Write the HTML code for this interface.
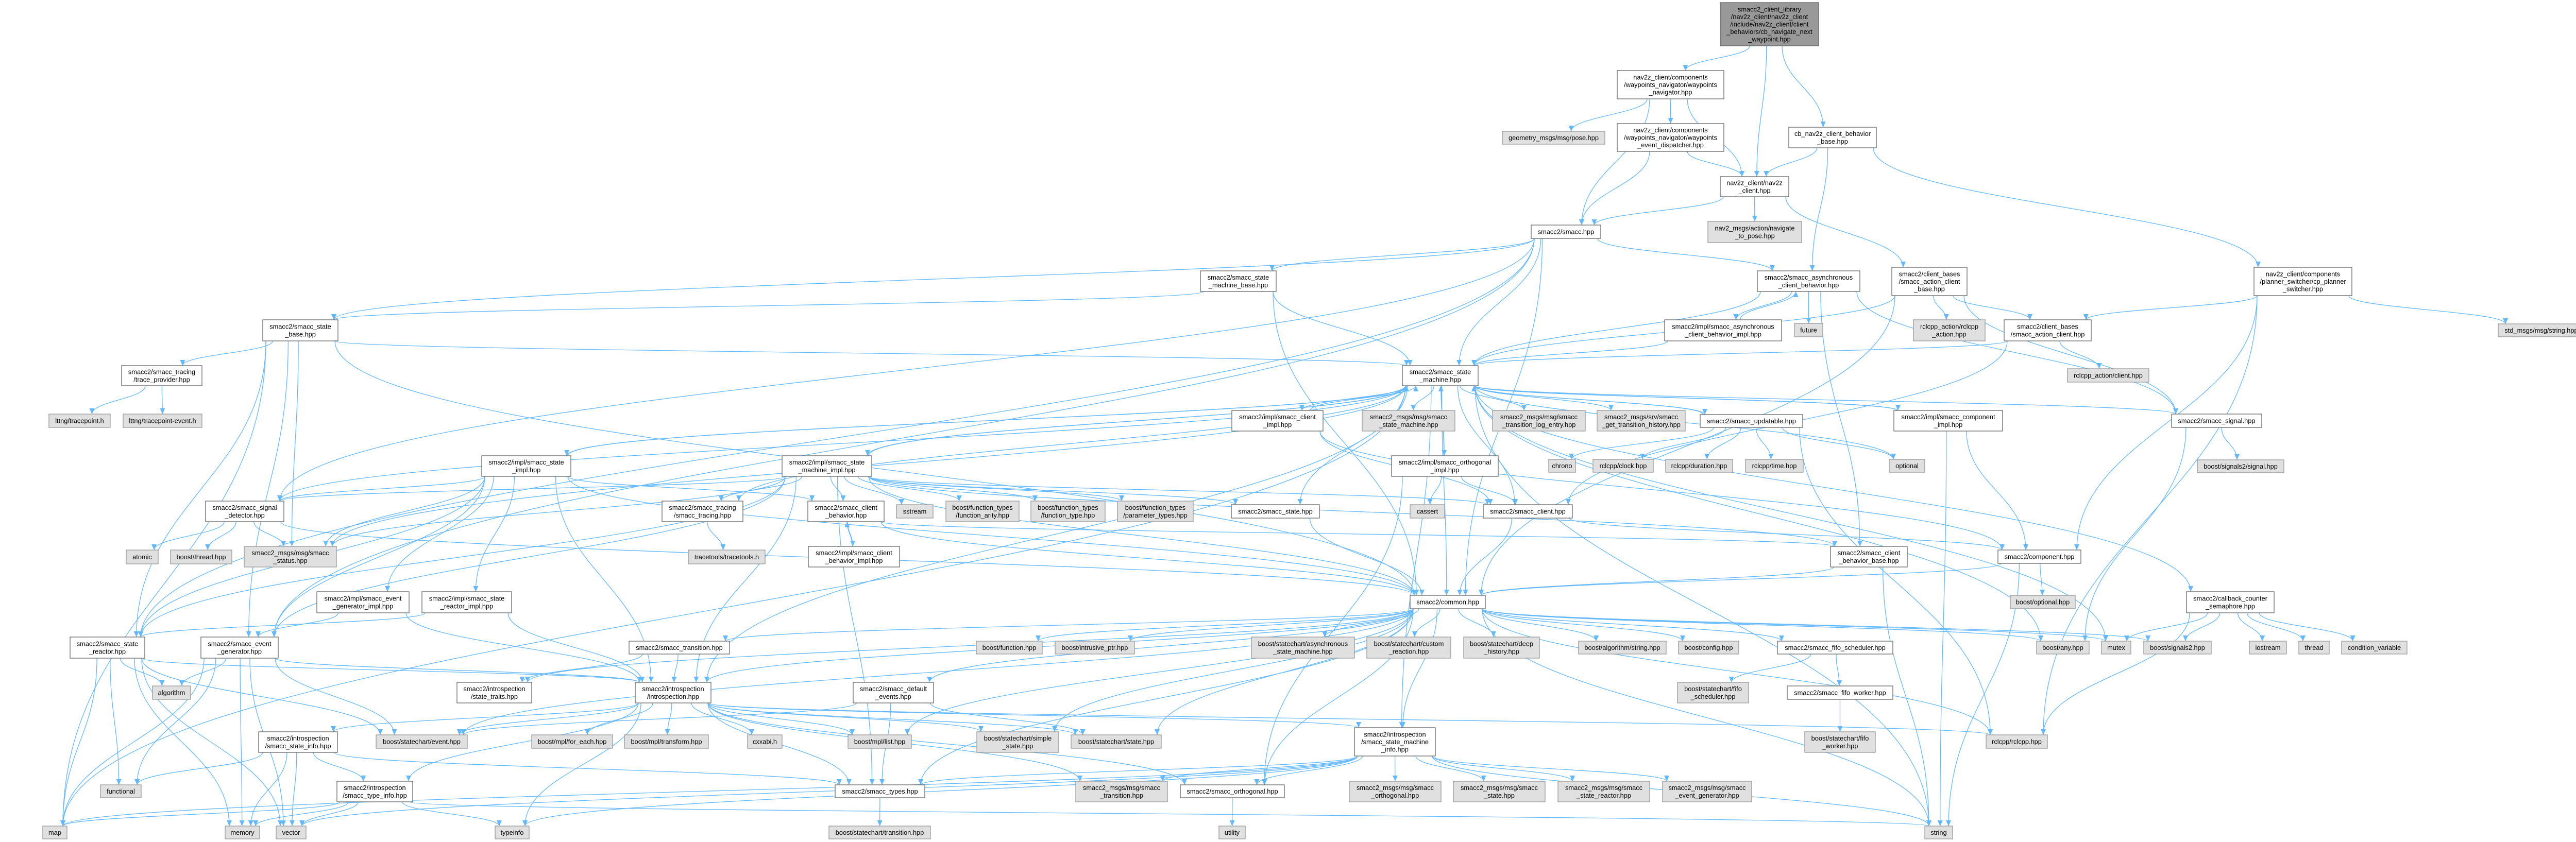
<!DOCTYPE html>
<html><head><meta charset="utf-8">
<style>
html,body{margin:0;padding:0;background:#fff;}
svg{display:block;}
text{font-family:"Liberation Sans",Arial,sans-serif;font-size:12.8px;fill:#000;text-anchor:middle;}
.w{fill:#fff;stroke:#666;stroke-width:1.3;}
.g{fill:#e0e0e0;stroke:#999;stroke-width:1.3;}
.d{fill:#999;stroke:#666;stroke-width:1.3;}
.e{fill:none;stroke:#63b8ff;stroke-width:1.3;}
</style></head>
<body>
<svg id="s" width="5023" height="1635" viewBox="0 0 5023 1635" xmlns="http://www.w3.org/2000/svg">
<defs><marker id="a" markerUnits="userSpaceOnUse" markerWidth="12" markerHeight="10" refX="11" refY="5" orient="auto"><path d="M0,0 L11,5 L0,10 z" fill="#63b8ff"/></marker></defs>
<g id="edges"></g>
<g id="nodes">
<g id="R"><rect class="d" x="3339" y="5" width="191" height="84"/><text x="3434.5" y="22.3">smacc2_client_library<tspan x="3434.5" dy="14.6">/nav2z_client/nav2z_client</tspan><tspan x="3434.5" dy="14.6">/include/nav2z_client/client</tspan><tspan x="3434.5" dy="14.6">_behaviors/cb_navigate_next</tspan><tspan x="3434.5" dy="14.6">_waypoint.hpp</tspan></text></g>
<g id="WN"><rect class="w" x="3139" y="137" width="207" height="55"/><text x="3242.5" y="154.4">nav2z_client/components<tspan x="3242.5" dy="14.6">/waypoints_navigator/waypoints</tspan><tspan x="3242.5" dy="14.6">_navigator.hpp</tspan></text></g>
<g id="GP"><rect class="g" x="2916" y="255" width="199" height="25"/><text x="3015.5" y="272">geometry_msgs/msg/pose.hpp</text></g>
<g id="WE"><rect class="w" x="3139" y="240" width="207" height="54"/><text x="3242.5" y="256.9">nav2z_client/components<tspan x="3242.5" dy="14.6">/waypoints_navigator/waypoints</tspan><tspan x="3242.5" dy="14.6">_event_dispatcher.hpp</tspan></text></g>
<g id="NC"><rect class="w" x="3339" y="343" width="133" height="39"/><text x="3405.5" y="359.7">nav2z_client/nav2z<tspan x="3405.5" dy="14.6">_client.hpp</tspan></text></g>
<g id="NP"><rect class="g" x="3315" y="430" width="182" height="41"/><text x="3406" y="447.7">nav2_msgs/action/navigate<tspan x="3406" dy="14.6">_to_pose.hpp</tspan></text></g>
<g id="SM"><rect class="w" x="2972" y="437" width="135" height="26"/><text x="3039.5" y="454.5">smacc2/smacc.hpp</text></g>
<g id="CB"><rect class="w" x="3472" y="247" width="170" height="40"/><text x="3557" y="264.2">cb_nav2z_client_behavior<tspan x="3557" dy="14.6">_base.hpp</tspan></text></g>
<g id="SMB"><rect class="w" x="2330" y="526" width="147" height="40"/><text x="2403.5" y="543.2">smacc2/smacc_state<tspan x="2403.5" dy="14.6">_machine_base.hpp</tspan></text></g>
<g id="AC"><rect class="w" x="3411" y="526" width="199" height="40"/><text x="3510.5" y="543.2">smacc2/smacc_asynchronous<tspan x="3510.5" dy="14.6">_client_behavior.hpp</tspan></text></g>
<g id="ACB"><rect class="w" x="3672" y="519" width="146" height="55"/><text x="3745" y="536.4">smacc2/client_bases<tspan x="3745" dy="14.6">/smacc_action_client</tspan><tspan x="3745" dy="14.6">_base.hpp</tspan></text></g>
<g id="PS"><rect class="w" x="4375" y="519" width="190" height="55"/><text x="4470" y="536.4">nav2z_client/components<tspan x="4470" dy="14.6">/planner_switcher/cp_planner</tspan><tspan x="4470" dy="14.6">_switcher.hpp</tspan></text></g>
<g id="ACI"><rect class="w" x="3231" y="621" width="227" height="41"/><text x="3344.5" y="638.7">smacc2/impl/smacc_asynchronous<tspan x="3344.5" dy="14.6">_client_behavior_impl.hpp</tspan></text></g>
<g id="FU"><rect class="g" x="3483" y="628" width="55" height="26"/><text x="3510.5" y="645.5">future</text></g>
<g id="RA"><rect class="g" x="3714" y="621" width="139" height="41"/><text x="3783.5" y="638.7">rclcpp_action/rclcpp<tspan x="3783.5" dy="14.6">_action.hpp</tspan></text></g>
<g id="ACL"><rect class="w" x="3890" y="621" width="169" height="41"/><text x="3974.5" y="638.7">smacc2/client_bases<tspan x="3974.5" dy="14.6">/smacc_action_client.hpp</tspan></text></g>
<g id="RAC"><rect class="g" x="4013" y="716" width="158" height="26"/><text x="4092" y="733.5">rclcpp_action/client.hpp</text></g>
<g id="SS"><rect class="g" x="4849" y="629" width="167" height="25"/><text x="4932.5" y="646">std_msgs/msg/string.hpp</text></g>
<g id="SB"><rect class="w" x="510" y="621" width="146" height="41"/><text x="583" y="638.7">smacc2/smacc_state<tspan x="583" dy="14.6">_base.hpp</tspan></text></g>
<g id="TP"><rect class="w" x="236" y="710" width="156" height="39"/><text x="314" y="726.7">smacc2/smacc_tracing<tspan x="314" dy="14.6">/trace_provider.hpp</tspan></text></g>
<g id="LT1"><rect class="g" x="95" y="804" width="119" height="26"/><text x="154.5" y="821.5">lttng/tracepoint.h</text></g>
<g id="LT2"><rect class="g" x="239" y="804" width="153" height="26"/><text x="315.5" y="821.5">lttng/tracepoint-event.h</text></g>
<g id="STM"><rect class="w" x="2722" y="710" width="147" height="39"/><text x="2795.5" y="726.7">smacc2/smacc_state<tspan x="2795.5" dy="14.6">_machine.hpp</tspan></text></g>
<g id="CI"><rect class="w" x="2391" y="797" width="177" height="40"/><text x="2479.5" y="814.2">smacc2/impl/smacc_client<tspan x="2479.5" dy="14.6">_impl.hpp</tspan></text></g>
<g id="MSM"><rect class="g" x="2644" y="797" width="180" height="40"/><text x="2734" y="814.2">smacc2_msgs/msg/smacc<tspan x="2734" dy="14.6">_state_machine.hpp</tspan></text></g>
<g id="MTL"><rect class="g" x="2897" y="797" width="180" height="40"/><text x="2987" y="814.2">smacc2_msgs/msg/smacc<tspan x="2987" dy="14.6">_transition_log_entry.hpp</tspan></text></g>
<g id="MGT"><rect class="g" x="3100" y="797" width="171" height="40"/><text x="3185.5" y="814.2">smacc2_msgs/srv/smacc<tspan x="3185.5" dy="14.6">_get_transition_history.hpp</tspan></text></g>
<g id="UP"><rect class="w" x="3300" y="805" width="199" height="25"/><text x="3399.5" y="822">smacc2/smacc_updatable.hpp</text></g>
<g id="CPI"><rect class="w" x="3676" y="797" width="211" height="40"/><text x="3781.5" y="814.2">smacc2/impl/smacc_component<tspan x="3781.5" dy="14.6">_impl.hpp</tspan></text></g>
<g id="SIG"><rect class="w" x="4215" y="804" width="175" height="26"/><text x="4302.5" y="821.5">smacc2/smacc_signal.hpp</text></g>
<g id="SMI"><rect class="w" x="1518" y="885" width="174" height="40"/><text x="1605" y="902.2">smacc2/impl/smacc_state<tspan x="1605" dy="14.6">_machine_impl.hpp</tspan></text></g>
<g id="OI"><rect class="w" x="2701" y="885" width="207" height="40"/><text x="2804.5" y="902.2">smacc2/impl/smacc_orthogonal<tspan x="2804.5" dy="14.6">_impl.hpp</tspan></text></g>
<g id="SI"><rect class="w" x="935" y="885" width="173" height="40"/><text x="1021.5" y="902.2">smacc2/impl/smacc_state<tspan x="1021.5" dy="14.6">_impl.hpp</tspan></text></g>
<g id="CH"><rect class="g" x="3006" y="892" width="52" height="25"/><text x="3032" y="909">chrono</text></g>
<g id="CL"><rect class="g" x="3092" y="892" width="117" height="25"/><text x="3150.5" y="909">rclcpp/clock.hpp</text></g>
<g id="DU"><rect class="g" x="3233" y="892" width="130" height="25"/><text x="3298" y="909">rclcpp/duration.hpp</text></g>
<g id="TI"><rect class="g" x="3388" y="892" width="112" height="25"/><text x="3444" y="909">rclcpp/time.hpp</text></g>
<g id="OP"><rect class="g" x="3667" y="892" width="69" height="25"/><text x="3701.5" y="909">optional</text></g>
<g id="SIGS"><rect class="g" x="4265" y="893" width="168" height="25"/><text x="4349" y="910">boost/signals2/signal.hpp</text></g>
<g id="SD"><rect class="w" x="399" y="973" width="152" height="40"/><text x="475" y="990.2">smacc2/smacc_signal<tspan x="475" dy="14.6">_detector.hpp</tspan></text></g>
<g id="TR"><rect class="w" x="1285" y="973" width="157" height="40"/><text x="1363.5" y="990.2">smacc2/smacc_tracing<tspan x="1363.5" dy="14.6">/smacc_tracing.hpp</tspan></text></g>
<g id="CBH"><rect class="w" x="1568" y="973" width="148" height="40"/><text x="1642" y="990.2">smacc2/smacc_client<tspan x="1642" dy="14.6">_behavior.hpp</tspan></text></g>
<g id="SST"><rect class="g" x="1740" y="980" width="71" height="26"/><text x="1775.5" y="997.5">sstream</text></g>
<g id="FA"><rect class="g" x="1836" y="973" width="142" height="40"/><text x="1907" y="990.2">boost/function_types<tspan x="1907" dy="14.6">/function_arity.hpp</tspan></text></g>
<g id="FT"><rect class="g" x="2001" y="973" width="144" height="40"/><text x="2073" y="990.2">boost/function_types<tspan x="2073" dy="14.6">/function_type.hpp</tspan></text></g>
<g id="PT"><rect class="g" x="2169" y="973" width="147" height="40"/><text x="2242.5" y="990.2">boost/function_types<tspan x="2242.5" dy="14.6">/parameter_types.hpp</tspan></text></g>
<g id="ST"><rect class="w" x="2390" y="980" width="171" height="26"/><text x="2475.5" y="997.5">smacc2/smacc_state.hpp</text></g>
<g id="CA"><rect class="g" x="2737" y="980" width="67" height="26"/><text x="2770.5" y="997.5">cassert</text></g>
<g id="CLT"><rect class="w" x="2879" y="980" width="173" height="26"/><text x="2965.5" y="997.5">smacc2/smacc_client.hpp</text></g>
<g id="AT"><rect class="g" x="245" y="1068" width="62" height="27"/><text x="276" y="1086">atomic</text></g>
<g id="BT"><rect class="g" x="331" y="1068" width="119" height="27"/><text x="390.5" y="1086">boost/thread.hpp</text></g>
<g id="STS"><rect class="g" x="474" y="1061" width="179" height="40"/><text x="563.5" y="1078.2">smacc2_msgs/msg/smacc<tspan x="563.5" dy="14.6">_status.hpp</tspan></text></g>
<g id="TT"><rect class="g" x="1336" y="1068" width="149" height="27"/><text x="1410.5" y="1086">tracetools/tracetools.h</text></g>
<g id="CBI"><rect class="w" x="1569" y="1061" width="177" height="40"/><text x="1657.5" y="1078.2">smacc2/impl/smacc_client<tspan x="1657.5" dy="14.6">_behavior_impl.hpp</tspan></text></g>
<g id="CBB"><rect class="w" x="3553" y="1061" width="149" height="40"/><text x="3627.5" y="1078.2">smacc2/smacc_client<tspan x="3627.5" dy="14.6">_behavior_base.hpp</tspan></text></g>
<g id="CO"><rect class="w" x="3878" y="1068" width="161" height="26"/><text x="3958.5" y="1085.5">smacc2/component.hpp</text></g>
<g id="EGI"><rect class="w" x="615" y="1149" width="179" height="41"/><text x="704.5" y="1166.7">smacc2/impl/smacc_event<tspan x="704.5" dy="14.6">_generator_impl.hpp</tspan></text></g>
<g id="SRI"><rect class="w" x="819" y="1149" width="174" height="41"/><text x="906" y="1166.7">smacc2/impl/smacc_state<tspan x="906" dy="14.6">_reactor_impl.hpp</tspan></text></g>
<g id="CM"><rect class="w" x="2737" y="1156" width="146" height="26"/><text x="2810" y="1173.5">smacc2/common.hpp</text></g>
<g id="BO"><rect class="g" x="3902" y="1156" width="126" height="26"/><text x="3965" y="1173.5">boost/optional.hpp</text></g>
<g id="CCS"><rect class="w" x="4244" y="1149" width="170" height="41"/><text x="4329" y="1166.7">smacc2/callback_counter<tspan x="4329" dy="14.6">_semaphore.hpp</tspan></text></g>
<g id="SR"><rect class="w" x="136" y="1237" width="145" height="41"/><text x="208.5" y="1254.7">smacc2/smacc_state<tspan x="208.5" dy="14.6">_reactor.hpp</tspan></text></g>
<g id="EG"><rect class="w" x="390" y="1237" width="150" height="41"/><text x="465" y="1254.7">smacc2/smacc_event<tspan x="465" dy="14.6">_generator.hpp</tspan></text></g>
<g id="TRN"><rect class="w" x="1221" y="1245" width="195" height="25"/><text x="1318.5" y="1262">smacc2/smacc_transition.hpp</text></g>
<g id="BF"><rect class="g" x="1895" y="1245" width="128" height="25"/><text x="1959" y="1262">boost/function.hpp</text></g>
<g id="BIP"><rect class="g" x="2048" y="1245" width="154" height="25"/><text x="2125" y="1262">boost/intrusive_ptr.hpp</text></g>
<g id="ASM"><rect class="g" x="2429" y="1237" width="200" height="41"/><text x="2529" y="1254.7">boost/statechart/asynchronous<tspan x="2529" dy="14.6">_state_machine.hpp</tspan></text></g>
<g id="CR"><rect class="g" x="2653" y="1237" width="163" height="41"/><text x="2734.5" y="1254.7">boost/statechart/custom<tspan x="2734.5" dy="14.6">_reaction.hpp</tspan></text></g>
<g id="DH"><rect class="g" x="2841" y="1237" width="147" height="41"/><text x="2914.5" y="1254.7">boost/statechart/deep<tspan x="2914.5" dy="14.6">_history.hpp</tspan></text></g>
<g id="BAS"><rect class="g" x="3064" y="1245" width="170" height="25"/><text x="3149" y="1262">boost/algorithm/string.hpp</text></g>
<g id="BC"><rect class="g" x="3258" y="1245" width="117" height="25"/><text x="3316.5" y="1262">boost/config.hpp</text></g>
<g id="FS"><rect class="w" x="3450" y="1245" width="224" height="25"/><text x="3562" y="1262">smacc2/smacc_fifo_scheduler.hpp</text></g>
<g id="ANY"><rect class="g" x="3953" y="1245" width="102" height="25"/><text x="4004" y="1262">boost/any.hpp</text></g>
<g id="MU"><rect class="g" x="4079" y="1245" width="57" height="25"/><text x="4107.5" y="1262">mutex</text></g>
<g id="SG2"><rect class="g" x="4161" y="1245" width="131" height="25"/><text x="4226.5" y="1262">boost/signals2.hpp</text></g>
<g id="IO"><rect class="g" x="4366" y="1245" width="72" height="25"/><text x="4402" y="1262">iostream</text></g>
<g id="TH"><rect class="g" x="4462" y="1245" width="59" height="25"/><text x="4491.5" y="1262">thread</text></g>
<g id="CV"><rect class="g" x="4545" y="1245" width="127" height="25"/><text x="4608.5" y="1262">condition_variable</text></g>
<g id="AL"><rect class="g" x="296" y="1332" width="74" height="26"/><text x="333" y="1349.5">algorithm</text></g>
<g id="STT"><rect class="w" x="887" y="1325" width="145" height="40"/><text x="959.5" y="1342.2">smacc2/introspection<tspan x="959.5" dy="14.6">/state_traits.hpp</tspan></text></g>
<g id="IN"><rect class="w" x="1233" y="1325" width="147" height="40"/><text x="1306.5" y="1342.2">smacc2/introspection<tspan x="1306.5" dy="14.6">/introspection.hpp</tspan></text></g>
<g id="DE"><rect class="w" x="1656" y="1325" width="156" height="40"/><text x="1734" y="1342.2">smacc2/smacc_default<tspan x="1734" dy="14.6">_events.hpp</tspan></text></g>
<g id="BFS"><rect class="g" x="3256" y="1325" width="138" height="40"/><text x="3325" y="1342.2">boost/statechart/fifo<tspan x="3325" dy="14.6">_scheduler.hpp</tspan></text></g>
<g id="FW"><rect class="w" x="3469" y="1332" width="205" height="26"/><text x="3571.5" y="1349.5">smacc2/smacc_fifo_worker.hpp</text></g>
<g id="SIN"><rect class="w" x="502" y="1421" width="153" height="40"/><text x="578.5" y="1438.2">smacc2/introspection<tspan x="578.5" dy="14.6">/smacc_state_info.hpp</tspan></text></g>
<g id="EV"><rect class="g" x="730" y="1427" width="177" height="26"/><text x="818.5" y="1444.5">boost/statechart/event.hpp</text></g>
<g id="FE"><rect class="g" x="1032" y="1427" width="157" height="26"/><text x="1110.5" y="1444.5">boost/mpl/for_each.hpp</text></g>
<g id="MT"><rect class="g" x="1212" y="1427" width="163" height="26"/><text x="1293.5" y="1444.5">boost/mpl/transform.hpp</text></g>
<g id="CX"><rect class="g" x="1451" y="1427" width="67" height="26"/><text x="1484.5" y="1444.5">cxxabi.h</text></g>
<g id="ML"><rect class="g" x="1646" y="1427" width="123" height="26"/><text x="1707.5" y="1444.5">boost/mpl/list.hpp</text></g>
<g id="SS2"><rect class="g" x="1896" y="1421" width="159" height="40"/><text x="1975.5" y="1438.2">boost/statechart/simple<tspan x="1975.5" dy="14.6">_state.hpp</tspan></text></g>
<g id="BST"><rect class="g" x="2079" y="1427" width="175" height="26"/><text x="2166.5" y="1444.5">boost/statechart/state.hpp</text></g>
<g id="SMIF"><rect class="w" x="2629" y="1413" width="157" height="55"/><text x="2707.5" y="1430.4">smacc2/introspection<tspan x="2707.5" dy="14.6">/smacc_state_machine</tspan><tspan x="2707.5" dy="14.6">_info.hpp</tspan></text></g>
<g id="BFW"><rect class="g" x="3503" y="1421" width="137" height="40"/><text x="3571.5" y="1438.2">boost/statechart/fifo<tspan x="3571.5" dy="14.6">_worker.hpp</tspan></text></g>
<g id="RC"><rect class="g" x="3855" y="1427" width="119" height="26"/><text x="3914.5" y="1444.5">rclcpp/rclcpp.hpp</text></g>
<g id="FN"><rect class="g" x="195" y="1524" width="79" height="25"/><text x="234.5" y="1541">functional</text></g>
<g id="TYI"><rect class="w" x="654" y="1517" width="147" height="40"/><text x="727.5" y="1534.2">smacc2/introspection<tspan x="727.5" dy="14.6">/smacc_type_info.hpp</tspan></text></g>
<g id="TY"><rect class="w" x="1621" y="1524" width="174" height="25"/><text x="1708" y="1541">smacc2/smacc_types.hpp</text></g>
<g id="MTR"><rect class="g" x="2088" y="1517" width="178" height="40"/><text x="2177" y="1534.2">smacc2_msgs/msg/smacc<tspan x="2177" dy="14.6">_transition.hpp</tspan></text></g>
<g id="OR"><rect class="w" x="2291" y="1524" width="202" height="25"/><text x="2392" y="1541">smacc2/smacc_orthogonal.hpp</text></g>
<g id="MO"><rect class="g" x="2619" y="1517" width="178" height="40"/><text x="2708" y="1534.2">smacc2_msgs/msg/smacc<tspan x="2708" dy="14.6">_orthogonal.hpp</tspan></text></g>
<g id="MS"><rect class="g" x="2821" y="1517" width="178" height="40"/><text x="2910" y="1534.2">smacc2_msgs/msg/smacc<tspan x="2910" dy="14.6">_state.hpp</tspan></text></g>
<g id="MSR"><rect class="g" x="3024" y="1517" width="178" height="40"/><text x="3113" y="1534.2">smacc2_msgs/msg/smacc<tspan x="3113" dy="14.6">_state_reactor.hpp</tspan></text></g>
<g id="MEG"><rect class="g" x="3227" y="1517" width="173" height="40"/><text x="3313.5" y="1534.2">smacc2_msgs/msg/smacc<tspan x="3313.5" dy="14.6">_event_generator.hpp</tspan></text></g>
<g id="MAP"><rect class="g" x="83" y="1604" width="47" height="25"/><text x="106.5" y="1621">map</text></g>
<g id="MEM"><rect class="g" x="437" y="1604" width="67" height="25"/><text x="470.5" y="1621">memory</text></g>
<g id="VEC"><rect class="g" x="536" y="1604" width="58" height="25"/><text x="565" y="1621">vector</text></g>
<g id="TYP"><rect class="g" x="961" y="1604" width="66" height="25"/><text x="994" y="1621">typeinfo</text></g>
<g id="BSTR"><rect class="g" x="1609" y="1604" width="197" height="25"/><text x="1707.5" y="1621">boost/statechart/transition.hpp</text></g>
<g id="UT"><rect class="g" x="2366" y="1604" width="51" height="25"/><text x="2391.5" y="1621">utility</text></g>
<g id="STR"><rect class="g" x="3736" y="1604" width="54" height="25"/><text x="3763" y="1621">string</text></g>
</g>
</svg>
<script>
(function(){
var E="R-WN R-NC R-CB WN-SM WN-GP WN-WE WN-NC WE-SM WE-NC NC-SM NC-NP NC-ACB CB-NC CB-AC CB-PS "+
"SM-SMB SM-AC SM-STM SM-SB SM-SD SM-CM SM-SR SM-EG SMB-STM SMB-SB SMB-CM AC-ACI AC-FU AC-SIG AC-CBB AC-STM ACI-AC ACI-STM "+
"ACB-ACL ACB-RA ACB-SIG ACB-STM ACB-CM PS-ACL PS-SS PS-CO PS-RC ACL-RAC ACL-CLT ACL-STM "+
"SB-TP SB-STM SB-SR SB-EG SB-CM SB-STS SB-MAP TP-LT1 TP-LT2 "+
"STM-CI STM-MSM STM-MTL STM-MGT STM-UP STM-CPI STM-SIG STM-OI STM-SMI STM-SI STM-SD STM-ST STM-CLT STM-CM STM-STS STM-MU STM-ANY STM-MAP STM-CCS STM-STR STM-SMIF STM-IN STM-TR STM-OP "+
"SMI-STM SI-STM OI-STM CI-STM CPI-STM UP-STM CI-CLT CI-CO UP-CH UP-CL UP-DU UP-TI UP-OP UP-RC CPI-CO CPI-STR SIG-SIGS SIG-ANY "+
"OI-CA OI-CLT OI-OR SI-SD SI-SR SI-EGI SI-SRI SI-IN SI-STS SI-CBH SI-CM SI-EG "+
"SMI-TR SMI-CBH SMI-SST SMI-FA SMI-FT SMI-PT SMI-ST SMI-CLT SMI-SR SMI-EG SMI-SD SMI-STS SMI-IN SMI-TY SMI-CBB SMI-CM "+
"SD-AT SD-BT SD-STS SD-CM TR-TT CBH-CBI CBI-CBH CBH-CBB CBH-CM ST-CM CLT-CM CLT-CO CBB-CM CBB-STR CO-CM CO-BO CO-STR "+
"EGI-EG EGI-IN SRI-SR SRI-IN CM-BF CM-BIP CM-ASM CM-CR CM-DH CM-BAS CM-BC CM-FS CM-ANY CM-MU CM-SG2 CM-RC CM-IN CM-TRN CM-DE CM-SMIF CM-OR CM-TY CM-EV CM-SS2 CM-BST CM-ML CM-STR CM-STT "+
"CCS-MU CCS-SG2 CCS-IO CCS-TH CCS-CV CCS-RC SR-AL SR-MAP SR-MEM SR-VEC SR-FN SR-IN SR-EV EG-AL EG-MAP EG-MEM EG-VEC EG-FN EG-EV EG-IN "+
"TRN-IN TRN-STT FS-FW FS-BFS FW-BFW IN-EV IN-FE IN-MT IN-CX IN-ML IN-SIN IN-TYI IN-TYP IN-SMIF IN-TY IN-OR IN-SS2 IN-BST IN-MTR IN-RC "+
"DE-EV DE-TY DE-BST SIN-FN SIN-MEM SIN-VEC SIN-TYI SIN-TY TYI-MAP TYI-MEM TYI-VEC TYI-TYP TYI-STR "+
"SMIF-MO SMIF-MS SMIF-MSR SMIF-MEG SMIF-MTR SMIF-OR SMIF-TY SMIF-STR SMIF-VEC SMIF-TYP SMIF-MAP TY-BSTR OR-UT SG2-X";
var g=document.getElementById('edges'),ns="http://www.w3.org/2000/svg";
function box(id){var n=document.getElementById(id);if(!n)return null;var r=n.querySelector('rect');
var x=+r.getAttribute('x'),y=+r.getAttribute('y'),w=+r.getAttribute('width'),h=+r.getAttribute('height');
return {x:x,y:y,w:w,h:h,cx:x+w/2,cy:y+h/2};}
function cl(v,a,b){return Math.max(a,Math.min(b,v));}
E.split(' ').forEach(function(p){var q=p.split('-'),s=box(q[0]),t=box(q[1]);if(!s||!t)return;
var d,sx,sy,ex,ey;
if(t.y>s.y+s.h+5){sx=s.cx+cl((t.cx-s.cx)*0.2,-s.w/2+6,s.w/2-6);sy=s.y+s.h;ex=t.cx+cl((s.cx-t.cx)*0.15,-t.w/2+8,t.w/2-8);ey=t.y;
var k=(ey-sy)*0.45;d="M"+sx+","+sy+" C"+sx+","+(sy+k)+" "+ex+","+(ey-k)+" "+ex+","+ey;}
else if(t.y+t.h<s.y-5){sx=s.cx+cl((t.cx-s.cx)*0.2,-s.w/2+6,s.w/2-6);sy=s.y;ex=t.cx+cl((s.cx-t.cx)*0.15,-t.w/2+8,t.w/2-8);ey=t.y+t.h;
var k=(sy-ey)*0.45;d="M"+sx+","+sy+" C"+sx+","+(sy-k)+" "+ex+","+(ey+k)+" "+ex+","+ey;}
else{if(t.cx>s.cx){sx=s.x+s.w;ex=t.x;}else{sx=s.x;ex=t.x+t.w;}sy=s.cy;ey=t.cy;var m=(sx+ex)/2;
d="M"+sx+","+sy+" C"+m+","+sy+" "+m+","+ey+" "+ex+","+ey;}
var e=document.createElementNS(ns,'path');e.setAttribute('d',d);e.setAttribute('class','e');e.setAttribute('marker-end','url(#a)');g.appendChild(e);});
})();
</script>
</body></html>
